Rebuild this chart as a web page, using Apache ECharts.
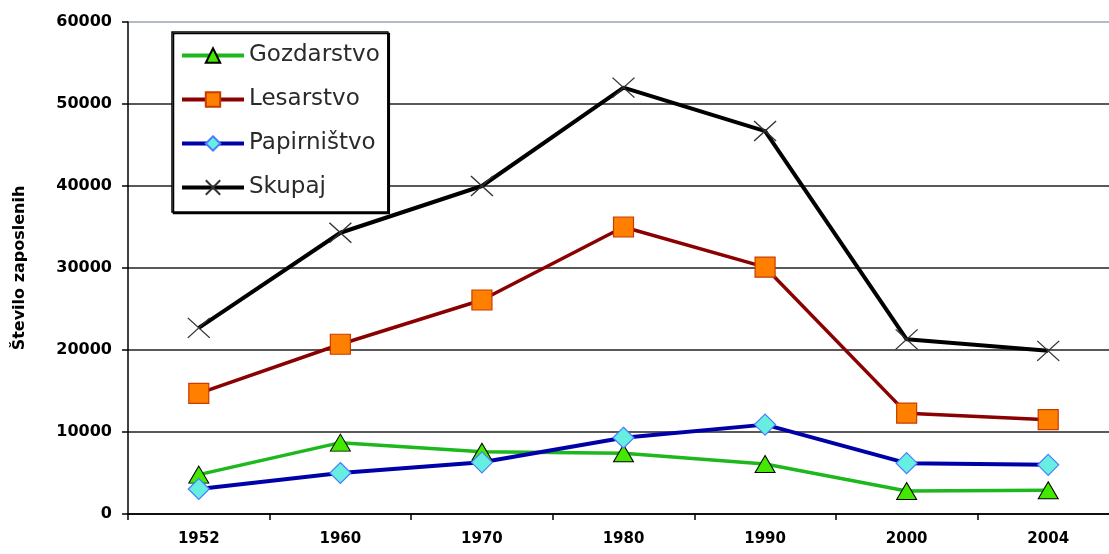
<!DOCTYPE html>
<html>
<head>
<meta charset="utf-8">
<script src="https://cdn.jsdelivr.net/npm/echarts@6/dist/echarts.min.js"></script>
<style>
  html, body { margin: 0; padding: 0; background: #fff; overflow: hidden; }
  /* the original plot runs past the right edge of the picture */
  #main { width: 1122px; height: 554px; }
</style>
</head>
<body>
<div id="main"></div>
<script>
var years = ['1952', '1960', '1970', '1980', '1990', '2000', '2004'];
var gozdarstvo = [4800, 8700, 7600, 7400, 6100, 2800, 2900];
var lesarstvo = [14700, 20700, 26100, 35000, 30100, 12300, 11500];
var papirnistvo = [3050, 5000, 6300, 9300, 10900, 6200, 6000];
var skupaj = [22700, 34300, 40000, 52000, 46700, 21300, 19900];

var chart = echarts.init(document.getElementById('main'));

var option = {
  animation: false,
  backgroundColor: '#fff',
  grid: {
    left: 128,
    top: 22,
    width: 991,
    bottom: 40
  },
  legend: {
    orient: 'vertical',
    left: 172,
    top: 32,
    padding: [12, 8, 13, 8],
    itemWidth: 62,
    itemHeight: 18,
    itemGap: 21,
    backgroundColor: '#fff',
    borderColor: '#000',
    borderWidth: 1.5,
    shadowColor: '#000',
    shadowBlur: 0,
    shadowOffsetX: 1.5,
    shadowOffsetY: 1.5,
    lineStyle: { width: 4 },
    textStyle: {
      fontFamily: 'DejaVu Sans',
      fontSize: 23,
      color: '#2a2a2a'
    },
    data: ['Gozdarstvo', 'Lesarstvo', 'Papirništvo', 'Skupaj']
  },
  xAxis: {
    type: 'category',
    data: years,
    boundaryGap: true,
    axisLine: { lineStyle: { color: '#000', width: 1.5 } },
    axisTick: { show: true, length: 6, lineStyle: { color: '#000', width: 1.5 } },
    axisLabel: {
      margin: 18,
      color: '#000',
      fontFamily: 'DejaVu Sans',
      fontWeight: 'bold',
      fontSize: 15
    }
  },
  yAxis: {
    type: 'value',
    min: 0,
    max: 60000,
    interval: 10000,
    name: 'Število zaposlenih',
    nameLocation: 'middle',
    nameGap: 100,
    nameTextStyle: {
      color: '#000',
      fontFamily: 'DejaVu Sans',
      fontWeight: 'bold',
      fontSize: 16
    },
    axisLine: { show: true, lineStyle: { color: '#000', width: 1.5 } },
    axisTick: { show: true, length: 6, lineStyle: { color: '#000', width: 1.5 } },
    axisLabel: {
      margin: 16,
      color: '#000',
      fontFamily: 'DejaVu Sans',
      fontWeight: 'bold',
      fontSize: 16,
      formatter: function (v) { return String(v); }
    },
    splitLine: {
      show: true,
      lineStyle: {
        color: ['#000', '#222', '#222', '#222', '#222', '#222', '#9aa6b0'],
        width: 1.5
      }
    }
  },
  series: [
    {
      name: 'Gozdarstvo',
      type: 'line',
      data: gozdarstvo,
      symbol: 'triangle',
      symbolSize: [20, 17],
      lineStyle: { color: '#1cb81c', width: 3.5 },
      itemStyle: { color: '#44e800', borderColor: '#000', borderWidth: 1 }
    },
    {
      name: 'Lesarstvo',
      type: 'line',
      data: lesarstvo,
      symbol: 'rect',
      symbolSize: 20,
      lineStyle: { color: '#8b0000', width: 3.5 },
      itemStyle: { color: '#ff7f00', borderColor: '#c83c00', borderWidth: 1.2 }
    },
    {
      name: 'Papirništvo',
      type: 'line',
      data: papirnistvo,
      symbol: 'diamond',
      symbolSize: 21,
      lineStyle: { color: '#0000a8', width: 4 },
      itemStyle: { color: '#66eee0', borderColor: '#4a7cff', borderWidth: 1.2 }
    },
    {
      name: 'Skupaj',
      type: 'line',
      data: skupaj,
      symbol: 'path://M0,0L10,10M10,0L0,10',
      symbolSize: [22, 20],
      lineStyle: { color: '#000', width: 4 },
      itemStyle: { color: '#000', borderColor: '#333', borderWidth: 1.3 }
    }
  ]
};

chart.setOption(option);
</script>
</body>
</html>
